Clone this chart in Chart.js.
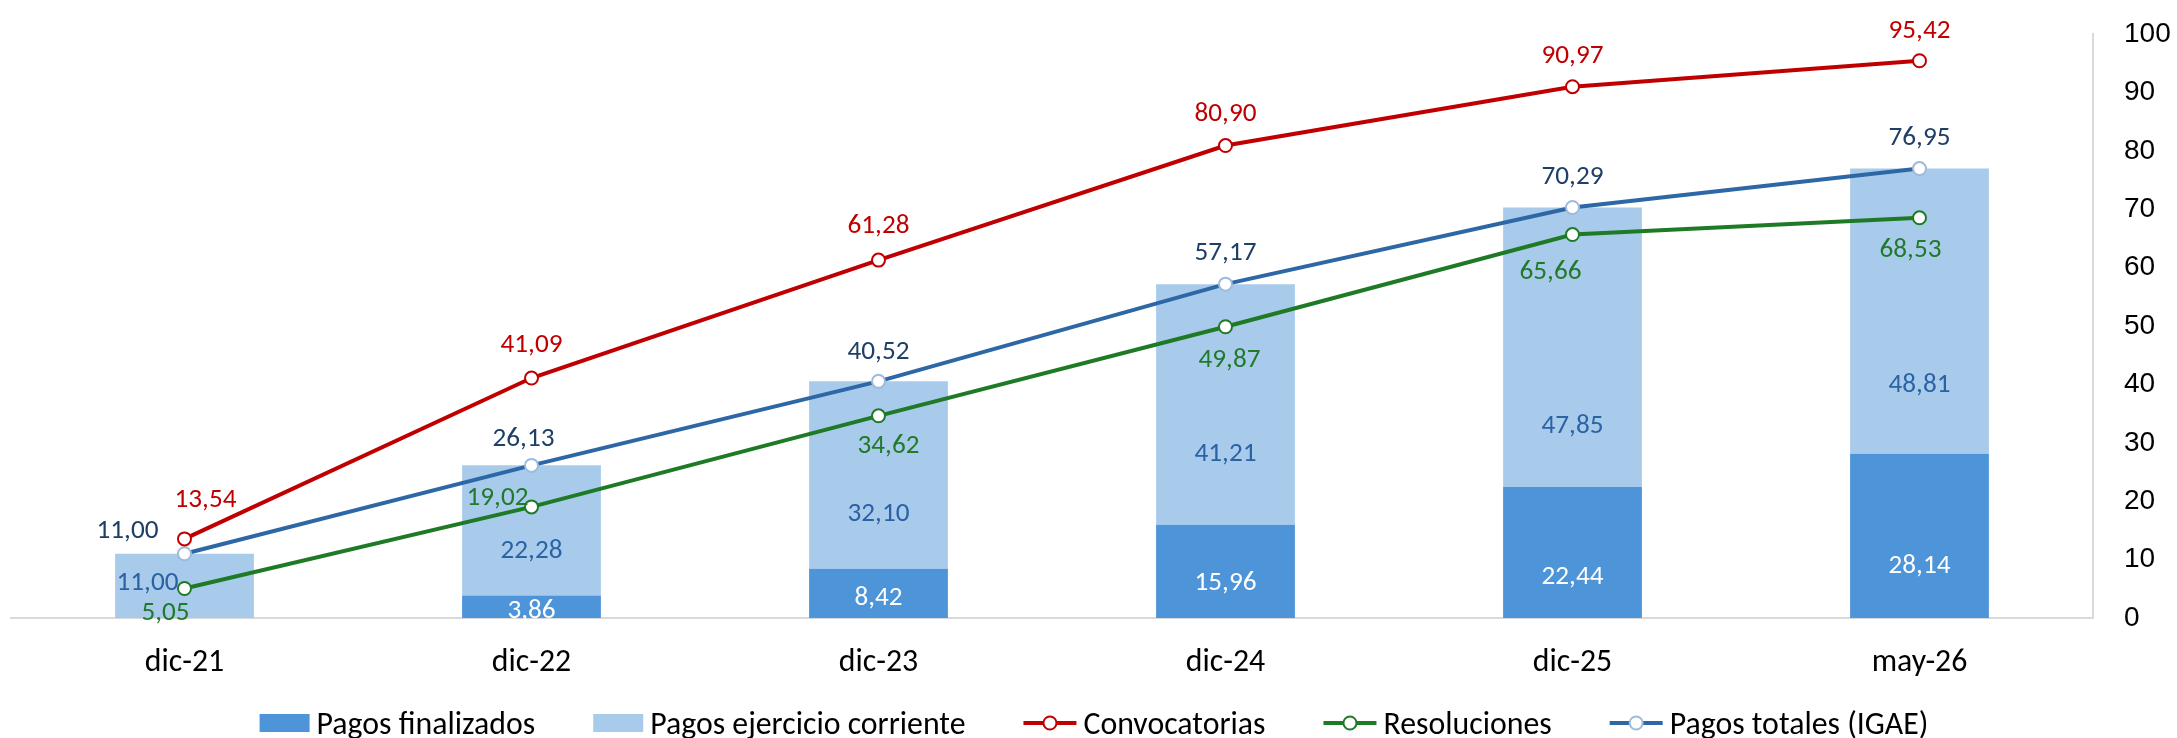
<!DOCTYPE html>
<html>
<head>
<meta charset="utf-8">
<script src="https://cdn.jsdelivr.net/npm/chart.js@4.4.1/dist/chart.umd.min.js"></script>
<style>
html,body{margin:0;padding:0;background:#ffffff;overflow:hidden;}
#wrap{width:2177px;height:738px;position:relative;}
canvas{display:block;}
</style>
</head>
<body>
<div id="wrap"><canvas id="c" width="2177" height="738"></canvas></div>
<script>
// ---- data ----
const categories = ['dic-21', 'dic-22', 'dic-23', 'dic-24', 'dic-25', 'may-26'];
const pagosFinalizados = [null, 3.86, 8.42, 15.96, 22.44, 28.14];
const pagosEjercicio = [11.00, 22.28, 32.10, 41.21, 47.85, 48.81];
const convocatorias = [13.54, 41.09, 61.28, 80.90, 90.97, 95.42];
const resoluciones = [5.05, 19.02, 34.62, 49.87, 65.66, 68.53];
const pagosTotales = [11.00, 26.13, 40.52, 57.17, 70.29, 76.95];
const yTickMin = 0, yTickMax = 100, yTickStep = 10;

// ---- styles ----
const FAMILY = "Carlito, Lato, 'Open Sans', sans-serif";
const TICKFAMILY = "'Liberation Sans', Arial, sans-serif";
const DARK = '#4E94D8';
const LIGHT = '#A8CBEC';
const RED = '#C00000';
const GREEN = '#1F7A26';
const BLUE = '#2E67A6';
const BLUE_MARK = '#9EBBDB';

function fitSize(text, target) {
  const c = document.createElement('canvas').getContext('2d');
  c.font = '100px ' + FAMILY;
  return Math.round(1000 * target / c.measureText(text).width) / 10;
}
const labelSize = fitSize('22,28', 62);
const textSize = fitSize('Pagos finalizados', 219);

function fmt(v) { return v.toFixed(2).replace('.', ','); }

// label placement (pixel offsets relative to point / segment centre)
const labelCfg = {
  'Convocatorias': { color: RED, anchor: 'point',
    offsets: [[21, -42], [0, -36], [0, -37], [0, -34], [0, -34], [0, -33]] },
  'Pagos totales (IGAE)': { color: '#1F3F66', anchor: 'point',
    offsets: [[-57, -26], [-8, -29], [0, -32], [0, -34], [0, -33], [0, -33]] },
  'Resoluciones': { color: '#217A2A', anchor: 'point',
    offsets: [[-19, 22], [-34, -12], [10, 27], [4, 30], [-22, 35], [-9, 29]] },
  'Pagos ejercicio corriente': { color: '#2A62A3', anchor: 'center',
    offsets: [[-37, -6], [0, 18], [0, 36], [0, 47], [0, 76], [0, 71]] },
  'Pagos finalizados': { color: '#FFFFFF', anchor: 'center',
    offsets: [[0, 0], [0, 1], [0, 2], [0, 9], [0, 22], [0, 27]] }
};

const valueLabels = {
  id: 'valueLabels',
  afterDatasetsDraw(chart) {
    const ctx = chart.ctx;
    ctx.save();
    ctx.font = labelSize + 'px ' + FAMILY;
    ctx.textAlign = 'center';
    ctx.textBaseline = 'alphabetic';
    chart.data.datasets.forEach((ds, di) => {
      const cfg = labelCfg[ds.label];
      if (!cfg) return;
      const meta = chart.getDatasetMeta(di);
      meta.data.forEach((el, i) => {
        const v = ds.data[i];
        if (v === null || v === undefined) return;
        let x = el.x, y = el.y;
        if (cfg.anchor === 'center') y = (el.y + el.base) / 2;
        const o = cfg.offsets[i];
        ctx.fillStyle = cfg.color;
        ctx.fillText(fmt(v), x + o[0], y + o[1] + labelSize * 0.36);
      });
    });
    ctx.restore();
  }
};

const legendOrder = ['Pagos finalizados', 'Pagos ejercicio corriente', 'Convocatorias', 'Resoluciones', 'Pagos totales (IGAE)'];
const customLegend = {
  id: 'customLegend',
  afterDraw(chart) {
    const ctx = chart.ctx;
    ctx.save();
    ctx.font = textSize + 'px ' + FAMILY;
    const items = legendOrder.map(name => {
      const ds = chart.data.datasets.find(d => d.label === name);
      const isBar = ds.type === 'bar';
      const iw = isBar ? 50 : 53;
      return { name, ds, isBar, iw, tw: ctx.measureText(name).width };
    });
    const gapIT = 7, gapItems = 58;
    let total = 0;
    items.forEach((it, k) => { total += it.iw + gapIT + it.tw + (k ? gapItems : 0); });
    let x = 1094 - total / 2;
    const cy = 723;
    items.forEach(it => {
      if (it.isBar) {
        ctx.fillStyle = it.ds.backgroundColor;
        ctx.fillRect(x, cy - 9, it.iw, 18);
      } else {
        ctx.strokeStyle = it.ds.borderColor;
        ctx.lineWidth = 4;
        ctx.beginPath(); ctx.moveTo(x, cy); ctx.lineTo(x + it.iw, cy); ctx.stroke();
        ctx.beginPath(); ctx.arc(x + it.iw / 2, cy, 6.5, 0, Math.PI * 2);
        ctx.fillStyle = '#fff'; ctx.fill();
        ctx.lineWidth = 2; ctx.strokeStyle = it.ds.pointBorderColor; ctx.stroke();
      }
      x += it.iw + gapIT;
      ctx.fillStyle = '#000';
      ctx.textAlign = 'left';
      ctx.textBaseline = 'alphabetic';
      ctx.fillText(it.name, x, cy + textSize * 0.36);
      x += it.tw + gapItems;
    });
    ctx.restore();
  }
};

function lineDs(label, data, color, markColor, stack) {
  return {
    type: 'line', label, data, stack,
    borderColor: color, backgroundColor: '#ffffff', borderWidth: 4,
    pointRadius: 6.5, pointHoverRadius: 6.5, pointBorderWidth: 2,
    pointBackgroundColor: '#ffffff', pointBorderColor: markColor,
    tension: 0, fill: false, order: 1
  };
}

new Chart(document.getElementById('c'), {
  data: {
    labels: categories,
    datasets: [
      lineDs('Convocatorias', convocatorias, RED, RED, 's1'),
      lineDs('Pagos totales (IGAE)', pagosTotales, BLUE, BLUE_MARK, 's2'),
      lineDs('Resoluciones', resoluciones, GREEN, GREEN, 's3'),
      { type: 'bar', label: 'Pagos finalizados', data: pagosFinalizados, backgroundColor: DARK,
        stack: 'pagos', order: 5, categoryPercentage: 0.8, barPercentage: 0.5, borderWidth: 0 },
      { type: 'bar', label: 'Pagos ejercicio corriente', data: pagosEjercicio, backgroundColor: LIGHT,
        stack: 'pagos', order: 5, categoryPercentage: 0.8, barPercentage: 0.5, borderWidth: 0 }
    ]
  },
  options: {
    responsive: false,
    animation: false,
    devicePixelRatio: 1,
    layout: { padding: { left: 11, top: 34, right: 0, bottom: 0 } },
    plugins: { legend: { display: false }, tooltip: { enabled: false } },
    scales: {
      x: {
        type: 'category', offset: true, stacked: true,
        grid: { display: false, drawTicks: false },
        border: { display: true, color: '#D9D9D9', width: 2 },
        ticks: { color: '#000', font: { family: FAMILY, size: textSize }, padding: 26, maxRotation: 0 },
        afterFit(s) { s.height = 120; }
      },
      y: {
        position: 'right', min: yTickMin, max: yTickMax, stacked: true,
        grid: { display: false, drawTicks: true, tickLength: 31, tickColor: 'rgba(0,0,0,0)' },
        border: { display: true, color: '#D9D9D9', width: 2 },
        ticks: { stepSize: yTickStep, color: '#000', font: { family: TICKFAMILY, size: 28 }, padding: 0 },
        afterFit(s) { s.width = 84; }
      }
    }
  },
  plugins: [valueLabels, customLegend]
});
</script>
</body>
</html>
